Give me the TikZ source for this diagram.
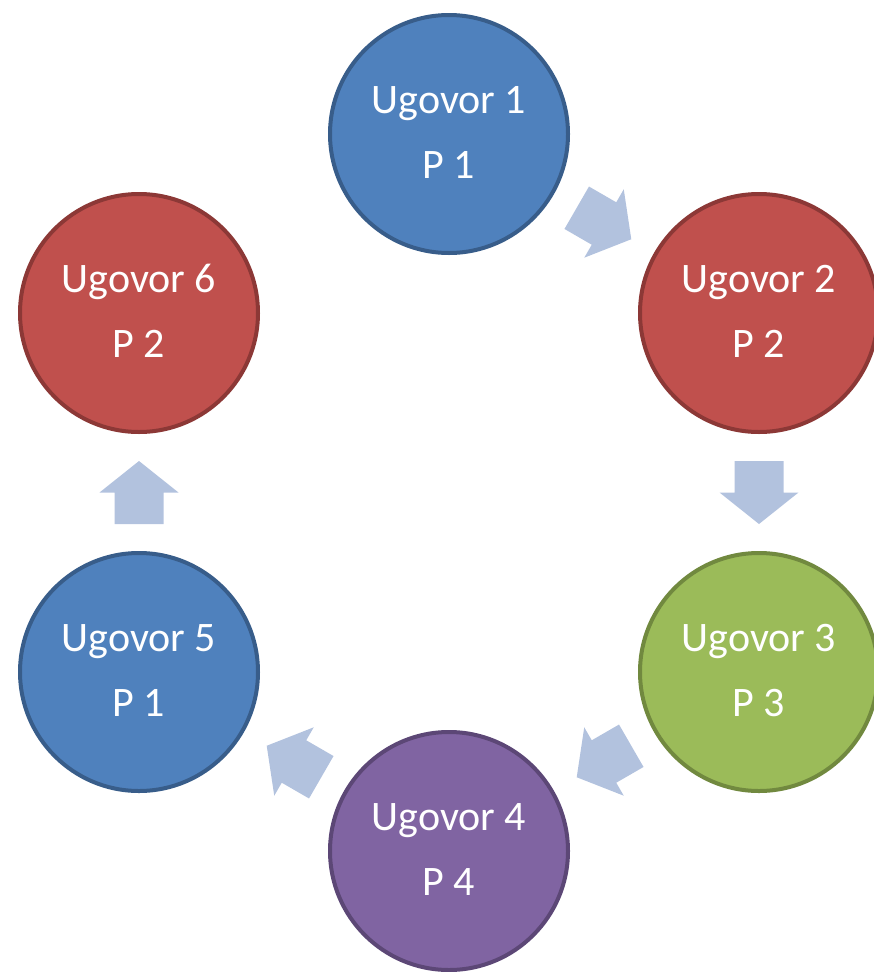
\documentclass[tikz,border=0pt]{standalone}
\usepackage{fontspec}
\setmainfont{Carlito}
\usetikzlibrary{calc}
\definecolor{blueF}{HTML}{4F81BD}\definecolor{blueD}{HTML}{385D8A}
\definecolor{redF}{HTML}{C0504D}\definecolor{redD}{HTML}{8C3836}
\definecolor{greenF}{HTML}{9BBB59}\definecolor{greenD}{HTML}{71893F}
\definecolor{purpF}{HTML}{8064A2}\definecolor{purpD}{HTML}{5C4776}
\definecolor{arrF}{HTML}{B2C2DE}
\tikzset{
  ball/.style={circle, minimum size=238pt, inner sep=0pt, line width=4pt},
  bluec/.style={ball, fill=blueF, draw=blueD},
  redc/.style={ball, fill=redF, draw=redD},
  greenc/.style={ball, fill=greenF, draw=greenD},
  purpc/.style={ball, fill=purpF, draw=purpD},
  lbl/.style={text=white, font=\fontsize{42}{46}\selectfont, anchor=base, inner sep=0pt},
  blockarrow/.pic={\fill[arrF] (-31.5,-24.5) -- (0,-24.5) -- (0,-39.5) -- (31.5,0) -- (0,39.5) -- (0,24.5) -- (-31.5,24.5) -- cycle;}
}
\begin{document}
\begin{tikzpicture}[x=1pt,y=-1pt]
\useasboundingbox (0,0) rectangle (873,972);
\node[bluec]   (c1) at (449,134) {};
\node[redc]    (c2) at (759,313) {};
\node[greenc]  (c3) at (759,672) {};
\node[purpc]   (c4) at (449,851) {};
\node[bluec]   (c5) at (139,672) {};
\node[redc]    (c6) at (139,313) {};
\foreach \n/\a/\b in {1/Ugovor 1/P 1, 2/Ugovor 2/P 2, 3/Ugovor 3/P 3, 4/Ugovor 4/P 4, 5/Ugovor 5/P 1, 6/Ugovor 6/P 2}{
  \node[lbl] (t\n a) at ($(c\n)+(0,-21)$) {\a};
  \node[lbl] (t\n b) at ($(c\n)+(0,44)$) {\b};
}
\pic[rotate=-30]  at ($(c1)!0.5!(c2)$) {blockarrow};
\pic[rotate=-90]  at ($(c2)!0.5!(c3)$) {blockarrow};
\pic[rotate=-150] at ($(c3)!0.5!(c4)$) {blockarrow};
\pic[rotate=150]  at ($(c4)!0.5!(c5)$) {blockarrow};
\pic[rotate=90]   at ($(c5)!0.5!(c6)$) {blockarrow};
\end{tikzpicture}
\end{document}
